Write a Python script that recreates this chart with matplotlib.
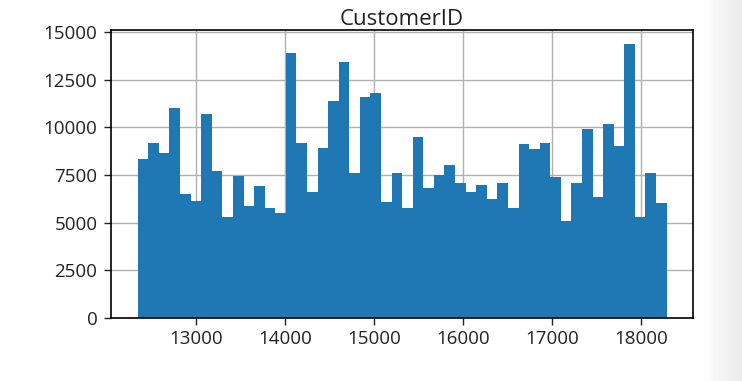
import numpy as np
import matplotlib
matplotlib.use("Agg")
import matplotlib.pyplot as plt

plt.rcParams['font.family'] = ['Open Sans', 'DejaVu Sans']

title = "CustomerID"
id_min = 12346
id_max = 18287
n_bins = 50
counts = [8354, 9173, 8650, 11022, 6505, 6156, 10708, 7708, 5302, 7464,
          5877, 6924, 5755, 5528, 13900, 9173, 6627, 8929, 11388, 13429,
          7604, 11580, 11772, 6104, 7621, 5790, 9505, 6819, 7499, 8040,
          7098, 6627, 6959, 6244, 7063, 5755, 9104, 8860, 9173, 7412,
          5075, 7098, 9923, 6366, 10150, 9034, 14371, 5302, 7604, 6017]
xticks = [13000, 14000, 15000, 16000, 17000, 18000]
yticks = [0, 2500, 5000, 7500, 10000, 12500, 15000]

edges = np.linspace(id_min, id_max, n_bins + 1)

fig = plt.figure(figsize=(7.42, 3.81), dpi=100)

# faint gray strip on the right edge
bg = fig.add_axes([0, 0, 1, 1], zorder=-10)
grad = np.linspace(0, 1, 400)
ramp = np.clip((grad - 0.955) / 0.045, 0, 1)
img = np.ones((2, 400, 3)) * (1 - 0.075 * ramp ** 0.7)[None, :, None]
bg.imshow(img, aspect='auto', extent=[0, 1, 0, 1])
bg.set_xlim(0, 1); bg.set_ylim(0, 1)
bg.axis('off')

ax = fig.add_axes([0.150, 0.165, 0.784, 0.756])
ax.hist(edges[:-1], bins=edges, weights=counts, color='#1f77b4', zorder=2)
ax.set_xlim(12049, 18584)
ax.set_ylim(0, 15090)
ax.set_xticks(xticks)
ax.set_yticks(yticks)
ax.grid(True, color='#b0b0b0', linewidth=1.0, zorder=0)
ax.set_axisbelow(True)
for s in ax.spines.values():
    s.set_linewidth(1.2)
ax.tick_params(labelsize=13.5, length=5, width=1.0, colors='#222222')
ax.tick_params(axis='y', pad=5)
ax.set_title(title, fontsize=16, pad=3, color='#222222')

fig.savefig("out.png", dpi=100)
